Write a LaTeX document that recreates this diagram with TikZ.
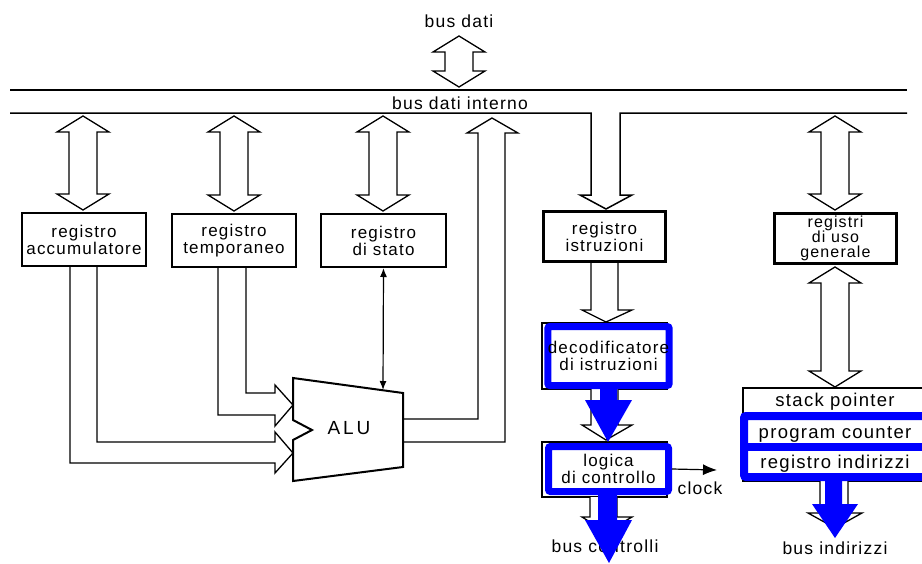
\documentclass[tikz,border=0pt]{standalone}
\usepackage{fontspec}
\setmainfont{Liberation Sans}
\usetikzlibrary{arrows.meta}
\newcommand{\regfont}{\fontsize{17}{17}\selectfont\addfontfeature{LetterSpace=7}}
\newcommand{\genfont}{\fontsize{16}{15}\selectfont\addfontfeature{LetterSpace=7}}
\newcommand{\busfont}{\fontsize{17.5}{18}\selectfont\addfontfeature{LetterSpace=7}}
\newcommand{\bigregfont}{\fontsize{18.5}{19}\selectfont\addfontfeature{LetterSpace=7}}
\newcommand{\alufont}{\fontsize{19}{19}\selectfont\addfontfeature{LetterSpace=15}}
% hollow double arrow: centre x, top y, bottom y
\newcommand{\hollowdbl}[3]{%
  \draw[hollow] (#1,#2) -- (#1+26,#2+16) -- (#1+14,#2+16) -- (#1+14,#3-16) -- (#1+26,#3-16)
    -- (#1,#3) -- (#1-26,#3-16) -- (#1-14,#3-16) -- (#1-14,#2+16) -- (#1-26,#2+16) -- cycle;}
\begin{document}
\begin{tikzpicture}[x=1pt,y=-1pt,
  reg/.style={draw, line width=2pt, fill=white, minimum width=124pt, minimum height=53pt,
              inner sep=0pt, align=center, font=\regfont},
  thickreg/.style={reg, line width=3pt},
  bluebox/.style={draw=blue, line width=7pt, rounded corners=2pt, minimum width=120pt,
              inner sep=0pt, align=center, font=\regfont},
  hollow/.style={draw, line width=1.3pt, fill=white, line join=miter},
  hline/.style={draw, line width=1.3pt, line join=miter},
  busline/.style={draw, line width=1.5pt},
  bluearrow/.style={fill=blue, draw=none},
  lbl/.style={inner sep=0pt, font=\busfont},
  row/.style={inner sep=0pt, font=\bigregfont}]
\useasboundingbox (0,0) rectangle (922,563);
\clip (0,0) rectangle (922,563);
\fill[white] (0,0) rectangle (922,563);

% bus dati
\node[lbl] (busdati) at (459,21) {bus dati};
\hollowdbl{459}{36}{87}
\draw[busline] (10,90) -- (907,90);
\node[lbl] (businterno) at (460,103) {bus dati interno};

% lower bus line with the feed into registro istruzioni
\draw[hline, line width=1.5pt] (10,113) -- (591,113) -- (591,195) -- (580,195) -- (606,209)
   -- (632,195) -- (620,195) -- (620,113) -- (907,113);

% registers
\node[reg] (acc) at (84,239.5) {registro\\accumulatore};
\node[reg] (temp) at (234,240.5) {registro\\temporaneo};
\node[reg, minimum width=125pt] (stato) at (383.5,240.5) {registro\\di stato};
\node[thickreg, minimum width=122pt, minimum height=50pt] (istr) at (604.5,236.5) {registro\\istruzioni};
\node[thickreg, minimum width=122pt, minimum height=50pt, font=\genfont] (gen) at (835.5,238.5) {registri\\di uso\\generale};

\hollowdbl{83}{116}{210}
\hollowdbl{234}{116}{211}
\hollowdbl{383}{116}{211}
\hollowdbl{835}{116}{210}
\hollowdbl{835}{267}{387}

% ALU
\draw[line width=2pt, fill=white, line join=miter] (293,378) -- (403,393) -- (403,467) -- (293,481)
   -- (293,440) -- (312,430) -- (293,420) -- cycle;
\node[inner sep=0pt, font=\alufont] (alu) at (349,428) {ALU};
\coordinate (alutop) at (383,390);

% inputs to ALU
\draw[hline] (218,268) -- (218,415) -- (275,415) -- (275,426) -- (293,405) -- (275,385)
   -- (275,393) -- (246,393) -- (246,268);
\draw[hline] (70,267) -- (70,463) -- (275,463) -- (275,473) -- (293,453) -- (275,432)
   -- (275,442) -- (97,442) -- (97,267);
% ALU output back to the bus
\draw[hline] (403,419) -- (478,419) -- (478,133) -- (467,133) -- (492,118) -- (518,133)
   -- (505,133) -- (505,442) -- (403,442);
% stato <-> ALU
\draw[line width=1.2pt, {Latex[length=9pt,width=7pt]}-{Latex[length=9pt,width=7pt]}] (stato.south) -- (alutop);

% istruzioni -> decodificatore
\draw[hollow] (591,263) -- (591,310) -- (582,310) -- (606,322) -- (632,310) -- (618,310) -- (618,263);

% control unit (black originals)
\draw[line width=2pt] (542,323) rectangle (667,389);
\draw[hollow] (591,389) -- (591,425) -- (582,425) -- (606,440) -- (632,425) -- (618,425) -- (618,389);
\draw[line width=2pt] (542,442) rectangle (667,497);
\draw[hollow] (590,497) -- (590,517) -- (582,517) -- (606,532) -- (632,517) -- (617,517) -- (617,497);

\node[bluebox, fill=white, minimum height=59pt] (dec) at (608.5,356) {decodificatore\\di istruzioni};
\node[bluebox, fill=white, minimum height=45pt] (logica) at (608.5,469) {logica\\di controllo};

% clock
\coordinate (clk) at (717,470);
\draw[line width=1.2pt, -{Latex[length=14pt,width=11pt]}] (logica.east) -- (clk);
\node[lbl] (clock) at (700,488) {clock};

% stack pointer block
\draw[line width=2pt, fill=white] (743,481) -- (743,388) -- (935,388) -- (935,481) -- cycle;
\draw[hollow] (820,481) -- (820,513) -- (808,513) -- (835,528) -- (862,513) -- (848,513) -- (848,481);
\node[row] (sp) at (835,402) {stack pointer};
\draw[blue, line width=8pt, rounded corners=2pt] (744,416) rectangle (940,477);
\draw[blue, line width=8pt] (744,446.5) -- (940,446.5);
\node[row] (pc) at (835,434) {program counter};
\node[row] (ri) at (835,464) {registro indirizzi};

% bus labels
\node[lbl] (busctrl) at (605,546) {bus controlli};
\node[lbl] (busind) at (835,548) {bus indirizzi};

% blue overlay arrows
\fill[bluearrow] (600,389) -- (600,400) -- (585,400) -- (608,442) -- (632,400) -- (617,400) -- (617,389) -- cycle;
\fill[bluearrow] (598,495) -- (598,520) -- (585,520) -- (609,563) -- (632,520) -- (617,520) -- (617,495) -- cycle;
\fill[bluearrow] (825,481) -- (825,504) -- (812,504) -- (835,538) -- (858,504) -- (842,504) -- (842,481) -- cycle;
\end{tikzpicture}
\end{document}
